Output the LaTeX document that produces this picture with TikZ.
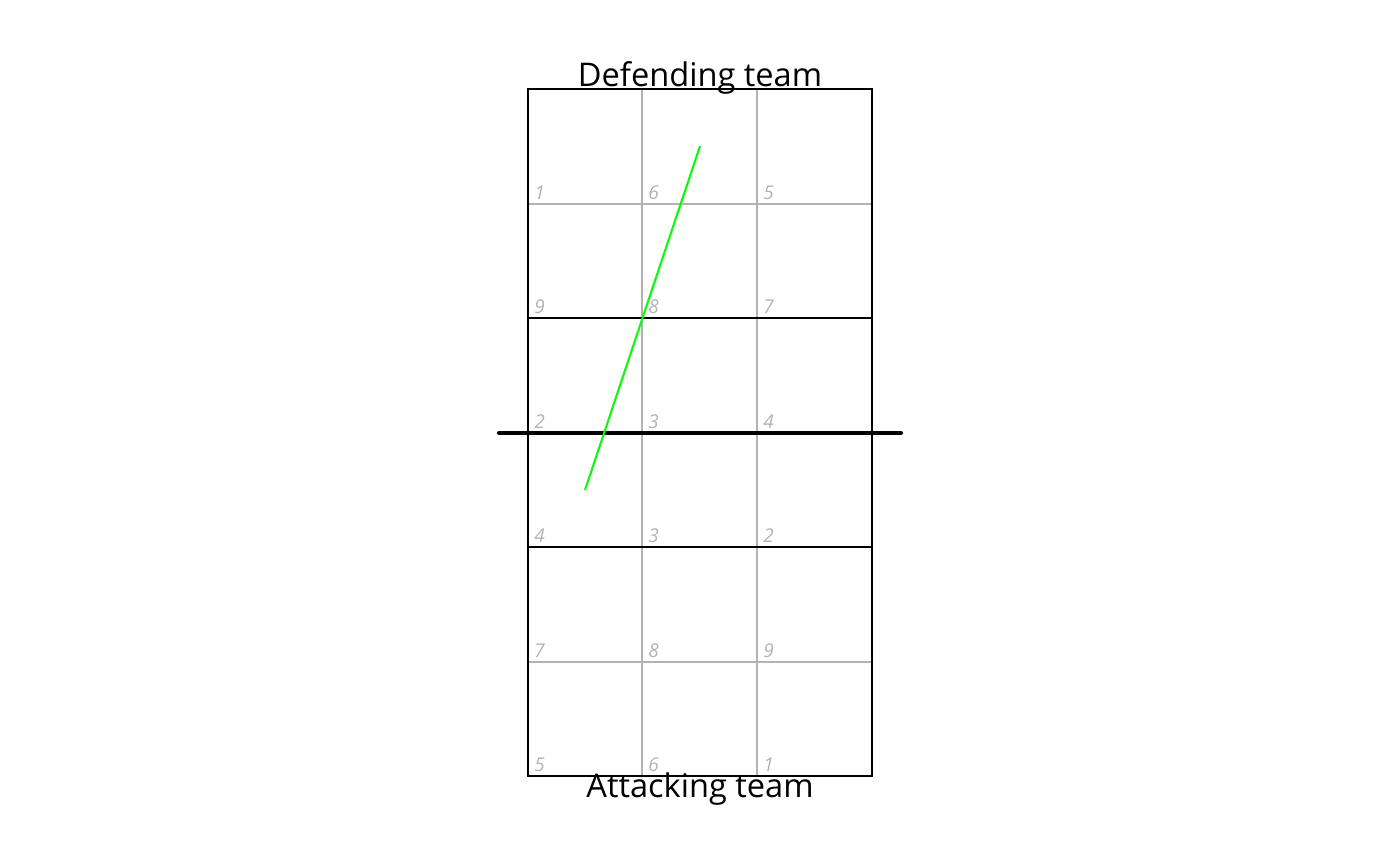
\documentclass[tikz,border=0pt]{standalone}
\usepackage{fontspec}
\setmainfont{Open Sans}
\begin{document}
\begin{tikzpicture}[x=0.5pt,y=-0.5pt,
  gridline/.style={draw={rgb,255:red,179;green,179;blue,179},line width=1pt},
  blackline/.style={draw=black,line width=1pt},
  netline/.style={draw=black,line width=2pt,line cap=round},
  zonelbl/.style={anchor=base west,inner sep=0pt,text={rgb,255:red,179;green,179;blue,179},font=\fontsize{9.5}{10}\selectfont\itshape},
  title/.style={anchor=base,inner sep=0pt,font=\fontsize{16.3}{18}\selectfont}]
\useasboundingbox (0,0) rectangle (1400,866);
% grey grid
\foreach \x in {642,757} \draw[gridline] (\x,89) -- (\x,776);
\foreach \y in {204,662} \draw[gridline] (528,\y) -- (872,\y);
% black 3m lines and border
\foreach \y in {318,547} \draw[blackline] (528,\y) -- (872,\y);
\draw[blackline] (528,89) rectangle (872,776);
% net
\coordinate (netL) at (499,433);
\coordinate (netR) at (901,433);
\draw[netline] (netL) -- (netR);
% zone labels
\foreach \y/\a/\b/\c in {204/1/6/5, 318/9/8/7, 433/2/3/4, 547/4/3/2, 662/7/8/9, 776/5/6/1}{
  \node[zonelbl] at (534,\y-5) {\a};
  \node[zonelbl] at (648,\y-5) {\b};
  \node[zonelbl] at (763,\y-5) {\c};
}
% attack trajectory
\coordinate (ballstart) at (585,490);
\coordinate (ballend) at (700,146);
\draw[draw={rgb,255:red,0;green,255;blue,0},line width=1pt] (ballstart) -- (ballend);
% titles
\node[title] (def) at (700,87) {Defending team};
\node[title] (att) at (700,797) {Attacking team};
\end{tikzpicture}
\end{document}
